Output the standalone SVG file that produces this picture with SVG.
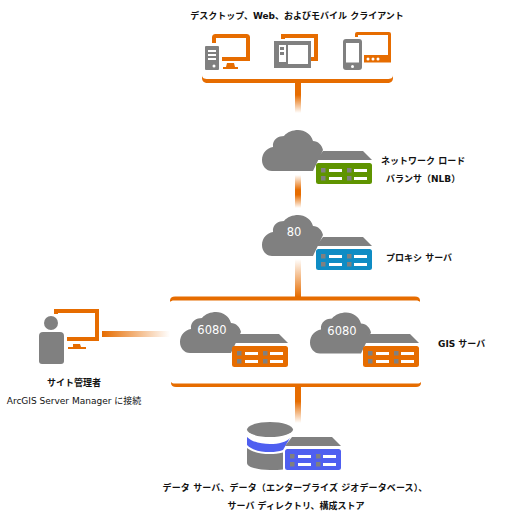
<svg xmlns="http://www.w3.org/2000/svg" width="505" height="519" viewBox="0 0 505 519">
<style>
.o{fill:#e66c00}.g{fill:#808080}.w{fill:#fff}
.ol{fill:none;stroke:#e66c00}
text{font-family:"DejaVu Sans","Noto Sans CJK JP",sans-serif;font-size:9px;fill:#111}
.b{font-weight:600}
.n{font-size:11.5px;fill:#fff;text-anchor:middle}
.c{text-anchor:middle}
</style>
<defs>
<linearGradient id="fd"><stop offset="0" stop-color="#e66c00"/><stop offset="1" stop-color="#e66c00" stop-opacity="0"/></linearGradient>
<linearGradient id="vdown" x1="0" y1="0" x2="0" y2="1"><stop offset="0" stop-color="#e66c00"/><stop offset=".4" stop-color="#e66c00"/><stop offset="1" stop-color="#e66c00" stop-opacity="0"/></linearGradient>
<linearGradient id="vboth" x1="0" y1="0" x2="0" y2="1"><stop offset="0" stop-color="#e66c00" stop-opacity="0"/><stop offset=".45" stop-color="#e66c00"/><stop offset=".6" stop-color="#e66c00"/><stop offset="1" stop-color="#e66c00" stop-opacity="0"/></linearGradient>
<linearGradient id="vup" x1="0" y1="1" x2="0" y2="0"><stop offset="0" stop-color="#e66c00"/><stop offset="1" stop-color="#e66c00" stop-opacity="0"/></linearGradient>
<path id="cloud" class="g" d="M10 41C4 41 0 36 0 30C0 23 5 18 11 17C10 9 17 6 22 6C25 2 31 0 36 0C43 0 49 4 51 11C56 11 60 15 61 20L51 41Z"/>
<g id="srv">
<path d="M7 0H47L56 9H0z" class="g"/>
<rect x="0" y="12" width="56" height="21" rx="2.500"/>
<g class="g"><rect x="5" y="17" width="4.500" height="4.500"/><rect x="5" y="25" width="4.500" height="4.500"/><rect x="31" y="17" width="4.500" height="4.500"/><rect x="31" y="25" width="4.500" height="4.500"/></g>
<g class="w"><rect x="13" y="18" width="13" height="3"/><rect x="13" y="26" width="13" height="3"/><rect x="38" y="18" width="13" height="3"/><rect x="38" y="26" width="13" height="3"/></g>
</g>
</defs>

<g id="connectors">
<rect x="295" y="83" width="6" height="30" fill="url(#vdown)"/>
<rect x="295" y="175" width="6" height="33" fill="url(#vboth)"/>
<rect x="295" y="259" width="6" height="38" fill="url(#vup)"/>
<rect x="295" y="387" width="6" height="36" fill="url(#vdown)"/>
<rect x="102" y="331" width="68" height="6" fill="url(#fd)"/>
</g>

<g id="clients">
<path class="o" d="M202 75c0 3 2 4 6 4H387c4 0 6-1 6-4v3c0 3-2 5-6 5H208c-4 0-6-2-6-5z"/>
<g id="desktop">
<path class="ol" stroke-width="4" d="M214 43V37.500q0-1.500 1.500-1.500H246.500q1.500 0 1.500 1.500V59H222"/>
<path class="o" d="M227 63h7l1 4h3v2h-15v-2h3z"/>
<rect x="205" y="46" width="14" height="24" rx="1" class="g"/>
<g class="w"><rect x="208" y="50" width="8" height="2"/><rect x="208" y="54" width="8" height="2"/><rect x="208" y="58" width="8" height="2"/><circle cx="214" cy="66" r="1.500"/></g>
</g>
<g id="web">
<path class="ol" stroke-width="4" d="M283 39V36H316V61"/>
<path class="o" d="M311 57h7v4h-7z"/>
<rect x="274" y="41" width="37" height="27" class="g"/>
<rect x="279" y="45" width="7" height="17" class="w"/>
<rect x="288" y="45" width="20" height="19" class="w"/>
<g class="g"><rect x="280" y="47" width="4" height="3"/><rect x="280" y="52" width="4" height="3"/></g>
</g>
<g id="mobile">
<path class="ol" stroke-width="3" d="M356.500 37V34q0-.5.5-.5H389q.5 0 .5.5V56"/>
<path class="o" d="M364 55H391V62.500H364z"/>
<g class="w"><circle cx="368" cy="59" r="1.500"/><circle cx="373" cy="59" r="1.500"/><circle cx="378" cy="59" r="1.500"/></g>
<rect x="343" y="39" width="19" height="31" rx="3" class="g"/>
<rect x="346" y="43" width="13" height="19.500" class="w"/>
<circle cx="352.500" cy="66.500" r="1.500" class="w"/>
</g>
<text class="b c" x="297" y="19">デスクトップ、Web、およびモバイル クライアント</text>
</g>

<g id="nlb">
<use href="#cloud" x="262" y="130"/>
<use href="#srv" x="316" y="151" fill="#5f9400"/>
<text class="b" x="381" y="164">ネットワーク ロード</text>
<text class="b" x="386" y="182">バランサ（NLB）</text>
</g>

<g id="proxy">
<use href="#cloud" x="262" y="215"/>
<text class="n" x="294" y="236">80</text>
<use href="#srv" x="316" y="237" fill="#0f8cc4"/>
<text class="b" x="386" y="261">プロキシ サーバ</text>
</g>

<g id="gis">
<path class="o" d="M170 302v-1.500c0-2.500 2-4 5-4H415c3 0 5 1.500 5 4v1.500c-1-1-2-1.500-4-1.500H174c-2 0-3 .5-4 1.500z"/>
<path class="o" d="M171 382c1 1 2 1.500 4 1.500H417c2 0 3-.5 4-1.500v1c0 2.500-2 4-5 4H176c-3 0-5-1.500-5-4z"/>
<g id="gis1">
<use href="#cloud" x="180" y="312"/>
<text class="n" x="212" y="334">6080</text>
<use href="#srv" x="232" y="334" fill="#e66c00"/>
</g>
<g id="gis2">
<use href="#cloud" x="310" y="312.500"/>
<text class="n" x="342" y="335">6080</text>
<use href="#srv" x="363" y="334" fill="#e66c00"/>
</g>
<text class="b" x="438" y="347">GIS サーバ</text>
</g>

<g id="admin">
<circle cx="51" cy="323" r="7" class="g"/>
<path class="g" d="M43 332H60q4 0 4 4V361q0 3-3 3H42q-3 0-3-3V336q0-4 4-4z"/>
<path class="ol" stroke-width="4" d="M56 314V311H97V339H67"/>
<path class="o" d="M73 344h7l1 3h5v2H68v-2h5z"/>
<text class="b c" x="74" y="386">サイト管理者</text>
<text class="c" x="74" y="404">ArcGIS Server Manager に接続</text>
</g>

<g id="data">
<ellipse cx="270" cy="429.500" rx="23" ry="7.500" class="g"/>
<path d="M247 437c5 5 14 7 23 7s16-2 20-6l-7 12c-4 1.500-8 2-13 2-10 0-18-2-23-7z" fill="#4f5ff0"/>
<path class="g" d="M247 448c5 4 13 6 23 6 4 0 8-.5 13-1.500V469.500c-3 .5-8 .5-13 .5-13 0-23-3-23-7z"/>
<use href="#srv" x="285" y="437" fill="#4f5ff0"/>
<text class="b c" x="295" y="491" letter-spacing=".11">データ サーバ、データ（エンタープライズ ジオデータベース）、</text>
<text class="b c" x="296" y="509">サーバ ディレクトリ、構成ストア</text>
</g>
</svg>
